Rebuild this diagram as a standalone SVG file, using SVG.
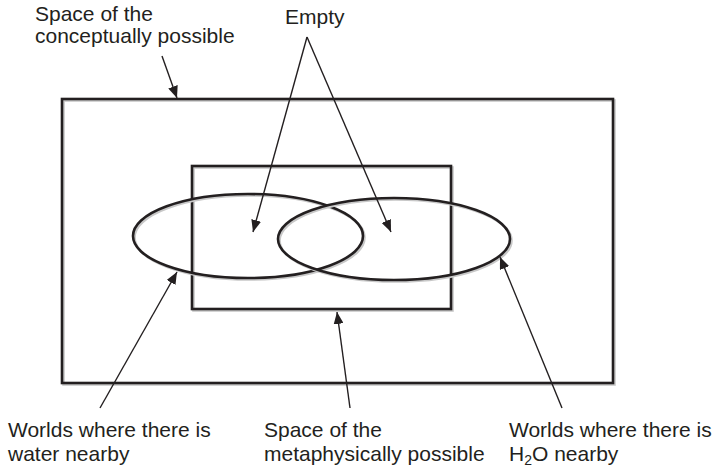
<svg xmlns="http://www.w3.org/2000/svg" width="715" height="467" viewBox="0 0 715 467">
<style>
.shape{fill:none;stroke:#231f20;stroke-width:2.6}
.shadow{fill:none;stroke:#c8c8c8;stroke-width:2.6}
.conn{fill:none;stroke:#231f20;stroke-width:1.4}
text{font-family:"Liberation Sans",Arial,sans-serif;font-size:21px;fill:#231f20}
</style>
<defs>
<marker id="ah" viewBox="0 0 12 10" refX="12" refY="5" markerWidth="12" markerHeight="10" markerUnits="userSpaceOnUse" orient="auto">
<path d="M0,0 L12,5 L0,10 Z" fill="#231f20"/>
</marker>
</defs>
<g id="conceptual-space">
<rect class="shadow" x="63.5" y="100.5" width="551" height="284"/>
<rect class="shape" x="62" y="99" width="551" height="284"/>
</g>
<g id="metaphysical-space">
<rect class="shadow" x="193.5" y="167.5" width="259" height="143"/>
<rect class="shape" x="192" y="166" width="259" height="143"/>
</g>
<g id="water-worlds">
<ellipse class="shadow" cx="249.5" cy="237.5" rx="115" ry="42"/>
<ellipse class="shape" cx="248" cy="236" rx="115" ry="42"/>
</g>
<g id="h2o-worlds">
<ellipse class="shadow" cx="395.5" cy="240.5" rx="116" ry="41"/>
<ellipse class="shape" cx="394" cy="239" rx="116" ry="41"/>
</g>
<g id="connectors">
<line class="conn" x1="162" y1="56" x2="177" y2="98" marker-end="url(#ah)"/>
<line class="conn" x1="307" y1="37" x2="253" y2="232" marker-end="url(#ah)"/>
<line class="conn" x1="307" y1="37" x2="391" y2="232" marker-end="url(#ah)"/>
<line class="conn" x1="100" y1="408" x2="177" y2="272" marker-end="url(#ah)"/>
<line class="conn" x1="350" y1="408" x2="337" y2="312" marker-end="url(#ah)"/>
<line class="conn" x1="562" y1="408" x2="500" y2="257" marker-end="url(#ah)"/>
</g>
<g id="labels">
<text x="35" y="21">Space of the</text>
<text x="35" y="43">conceptually possible</text>
<text x="285" y="24">Empty</text>
<text x="8" y="437">Worlds where there is</text>
<text x="8" y="461">water nearby</text>
<text x="264" y="437">Space of the</text>
<text x="264" y="461">metaphysically possible</text>
<text x="509" y="437">Worlds where there is</text>
<text x="509" y="461">H<tspan font-size="14" dy="4">2</tspan><tspan dy="-4">O nearby</tspan></text>
</g>
</svg>
